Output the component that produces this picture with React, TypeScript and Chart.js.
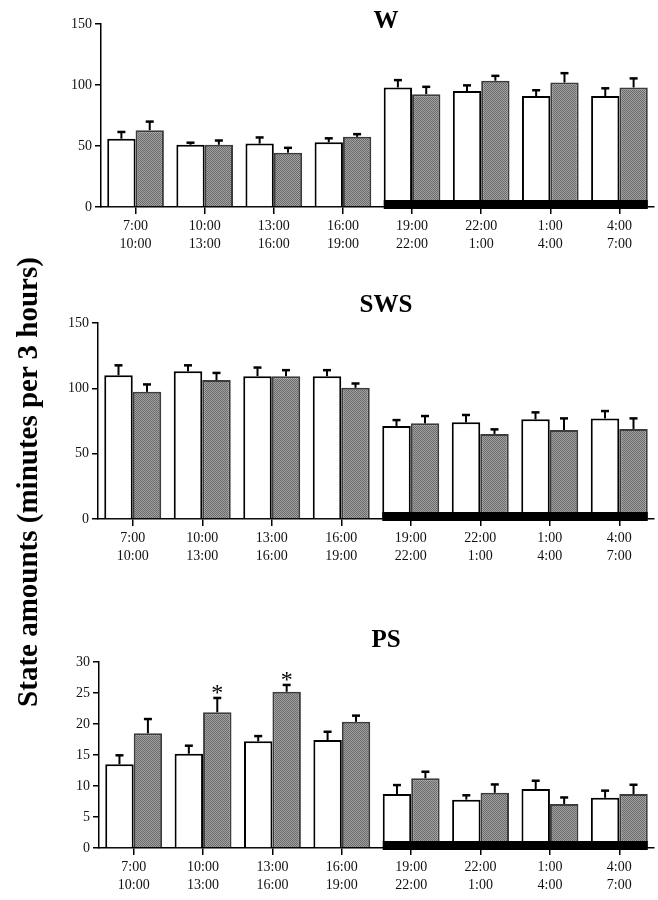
import React, { useEffect, useRef } from 'react';
import { Chart, registerables } from 'chart.js';

Chart.register(...registerables);

// ---------- data ----------
const periodLabels = [
  ['7:00', '10:00'],
  ['10:00', '13:00'],
  ['13:00', '16:00'],
  ['16:00', '19:00'],
  ['19:00', '22:00'],
  ['22:00', '1:00'],
  ['1:00', '4:00'],
  ['4:00', '7:00'],
];
const darkPhase = [false, false, false, false, true, true, true, true];

const wControl = [56, 51, 52, 53, 98, 95, 91, 91];
const wControlSem = [5.5, 1.7, 5, 3.3, 6, 4.7, 4.7, 6.3];
const wTreated = [63, 51, 44.5, 57.5, 92.5, 103.5, 102, 98];
const wTreatedSem = [7, 3.5, 4, 2.2, 6, 4, 7.7, 7.4];

const swsControl = [110, 113, 109.3, 109.3, 71.2, 74, 76.3, 77];
const swsControlSem = [7.6, 4.6, 6.6, 4.6, 4.5, 5.6, 5.3, 5.6];
const swsTreated = [97.3, 106.3, 109.3, 100.4, 73.2, 65.1, 68.1, 68.9];
const swsTreatedSem = [5.7, 5.5, 4.6, 3.3, 5.6, 3.5, 8.9, 8.1];

const psControl = [13.5, 15.2, 17.2, 17.4, 8.7, 7.8, 9.5, 8.1];
const psControlSem = [1.45, 1.3, 0.85, 1.35, 1.45, 0.7, 1.35, 1.15];
const psTreated = [18.5, 21.9, 25.2, 20.35, 11.25, 8.9, 7.1, 8.7];
const psTreatedSem = [2.3, 2.3, 1.1, 1.0, 1.05, 1.35, 1.05, 1.5];
const psSignificant = [false, true, true, false, false, false, false, false];

const noStars = [false, false, false, false, false, false, false, false];

const wTitle = 'W';
const swsTitle = 'SWS';
const psTitle = 'PS';
const yAxisTitle = 'State amounts (minutes per 3 hours)';

const wAxis = { max: 150, step: 50 };
const swsAxis = { max: 150, step: 50 };
const psAxis = { max: 30, step: 5 };

// ---------- layout ----------
const FONT = "'Liberation Serif', 'Times New Roman', serif";

const panels = [
  {
    key: 'w', title: wTitle, control: wControl, controlSem: wControlSem,
    treated: wTreated, treatedSem: wTreatedSem, stars: noStars, axis: wAxis,
    top: 0, height: 265, padTop: 24, xAxisHeight: 58, yWidth: 101, titleBaseline: 28,
  },
  {
    key: 'sws', title: swsTitle, control: swsControl, controlSem: swsControlSem,
    treated: swsTreated, treatedSem: swsTreatedSem, stars: noStars, axis: swsAxis,
    top: 280, height: 300, padTop: 43, xAxisHeight: 61, yWidth: 98, titleBaseline: 32,
  },
  {
    key: 'ps', title: psTitle, control: psControl, controlSem: psControlSem,
    treated: psTreated, treatedSem: psTreatedSem, stars: psSignificant, axis: psAxis,
    top: 620, height: 280, padTop: 42, xAxisHeight: 52, yWidth: 99, titleBaseline: 27,
  },
];

function makePattern(): CanvasPattern | string {
  const c = document.createElement('canvas');
  c.width = 2;
  c.height = 2;
  const g = c.getContext('2d');
  if (!g) return '#8a8a8a';
  g.fillStyle = '#a2a2a2';
  g.fillRect(0, 0, 2, 2);
  g.fillStyle = '#6a6a6a';
  g.fillRect(0, 0, 1, 1);
  g.fillRect(1, 1, 1, 1);
  const p = g.createPattern(c, 'repeat');
  return p || '#8a8a8a';
}

function makeDecorPlugin(panel: any) {
  return {
    id: 'decor_' + panel.key,
    afterDatasetsDraw(chart: any) {
      const ctx = chart.ctx;
      const ys = chart.scales.y;
      const m0 = chart.getDatasetMeta(0);
      const m1 = chart.getDatasetMeta(1);
      ctx.save();
      // dark phase bar
      const first = darkPhase.indexOf(true);
      const last = darkPhase.lastIndexOf(true);
      if (first >= 0) {
        const b0 = m0.data[first];
        const b1 = m1.data[last];
        const left = b0.x - b0.width / 2;
        const right = b1.x + b1.width / 2;
        const y0 = ys.getPixelForValue(0);
        ctx.fillStyle = '#000';
        ctx.fillRect(left, y0 - 7, right - left, 9);
      }
      // error bars
      const sets = [
        { meta: m0, vals: panel.control, sem: panel.controlSem },
        { meta: m1, vals: panel.treated, sem: panel.treatedSem },
      ];
      ctx.strokeStyle = '#000';
      for (const s of sets) {
        s.meta.data.forEach((bar: any, j: number) => {
          const top = ys.getPixelForValue(s.vals[j] + s.sem[j]);
          ctx.lineWidth = 2;
          ctx.beginPath();
          ctx.moveTo(bar.x, bar.y);
          ctx.lineTo(bar.x, top);
          ctx.stroke();
          ctx.lineWidth = 2.5;
          ctx.beginPath();
          ctx.moveTo(bar.x - 4, top);
          ctx.lineTo(bar.x + 4, top);
          ctx.stroke();
        });
      }
      // significance stars
      ctx.fillStyle = '#000';
      ctx.font = `24px ${FONT}`;
      ctx.textAlign = 'center';
      ctx.textBaseline = 'alphabetic';
      m1.data.forEach((bar: any, j: number) => {
        if (!panel.stars[j]) return;
        const top = ys.getPixelForValue(panel.treated[j] + panel.treatedSem[j]);
        ctx.fillText('*', bar.x, top + 2);
      });
      ctx.restore();
    },
    afterDraw(chart: any) {
      const ctx = chart.ctx;
      ctx.save();
      ctx.fillStyle = '#000';
      ctx.font = `bold 25px ${FONT}`;
      ctx.textAlign = 'center';
      ctx.textBaseline = 'alphabetic';
      ctx.fillText(panel.title, 386, panel.titleBaseline);
      ctx.restore();
    },
  };
}

function Panel({ panel }: { panel: any }) {
  const ref = useRef<HTMLCanvasElement | null>(null);
  useEffect(() => {
    if (!ref.current) return;
    const pattern = makePattern();
    const chart = new Chart(ref.current, {
      type: 'bar',
      data: {
        labels: periodLabels,
        datasets: [
          {
            data: panel.control,
            backgroundColor: '#ffffff',
            borderColor: '#000000',
            borderWidth: 2,
            categoryPercentage: 0.82,
            barPercentage: 1,
          },
          {
            data: panel.treated,
            backgroundColor: pattern as any,
            borderColor: '#3c3c3c',
            borderWidth: 2,
            categoryPercentage: 0.82,
            barPercentage: 1,
          },
        ],
      },
      options: {
        animation: false,
        responsive: true,
        maintainAspectRatio: false,
        layout: { padding: { top: panel.padTop, right: 4, left: 0, bottom: 0 } },
        plugins: {
          legend: { display: false },
          tooltip: { enabled: false },
          title: { display: false },
        },
        scales: {
          x: {
            offset: true,
            grid: {
              display: true,
              offset: false,
              drawOnChartArea: false,
              drawTicks: true,
              tickLength: 7,
              color: '#000',
              lineWidth: 1.5,
            },
            border: { display: true, color: '#000', width: 1.5 },
            ticks: {
              color: '#111',
              font: { family: FONT, size: 14, lineHeight: 1.32 },
              padding: 3,
              maxRotation: 0,
              autoSkip: false,
            },
            afterFit: (s: any) => { s.height = panel.xAxisHeight; },
          },
          y: {
            min: 0,
            max: panel.axis.max,
            grid: {
              display: true,
              drawOnChartArea: false,
              drawTicks: true,
              tickLength: 6,
              color: '#000',
              lineWidth: 1.5,
            },
            border: { display: true, color: '#000', width: 1.5 },
            ticks: {
              stepSize: panel.axis.step,
              color: '#111',
              font: { family: FONT, size: 14 },
              padding: 3,
            },
            afterFit: (s: any) => { s.width = panel.yWidth; },
          },
        },
      },
      plugins: [makeDecorPlugin(panel)],
    });
    return () => chart.destroy();
  }, [panel]);
  return (
    <div style={{ position: 'absolute', left: 0, top: panel.top, width: 658, height: panel.height }}>
      <canvas ref={ref} />
    </div>
  );
}

export default function App() {
  return (
    <div style={{ position: 'absolute', left: 0, top: 0, width: 658, height: 900, background: '#fff', overflow: 'hidden' }}>
      {panels.map((p) => (
        <Panel key={p.key} panel={p} />
      ))}
      <div
        style={{
          position: 'absolute',
          left: 27 - 260,
          top: 482 - 20,
          width: 520,
          height: 40,
          lineHeight: '40px',
          textAlign: 'center',
          transform: 'rotate(-90deg)',
          transformOrigin: 'center',
          fontFamily: FONT,
          fontWeight: 'bold',
          fontSize: 29,
          color: '#000',
          whiteSpace: 'nowrap',
        }}
      >
        {yAxisTitle}
      </div>
    </div>
  );
}
